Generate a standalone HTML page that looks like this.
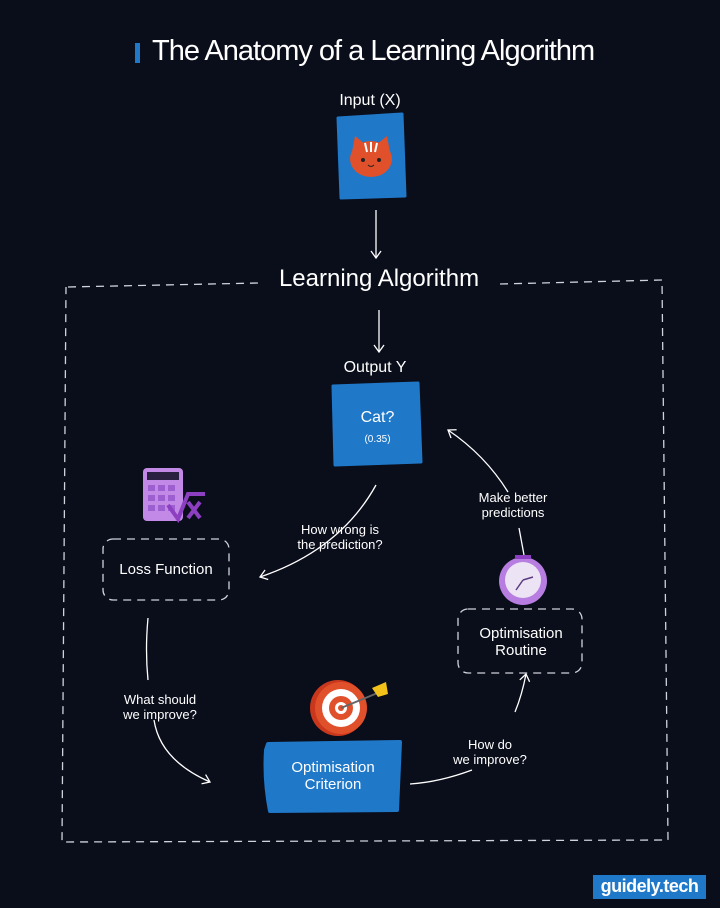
<!DOCTYPE html>
<html><head><meta charset="utf-8"><style>
html,body{margin:0;padding:0;background:#0a0d1a;}
body{width:720px;height:908px;position:relative;overflow:hidden;font-family:"Liberation Sans",sans-serif;color:#fff;}
.t{position:absolute;white-space:nowrap;text-align:center;}
</style></head><body>
<svg width="720" height="908" style="position:absolute;left:0;top:0">
<defs><marker id="a" markerWidth="12" markerHeight="12" refX="9" refY="6" orient="auto" markerUnits="userSpaceOnUse"><path d="M2,1 L9,6 L2,11" fill="none" stroke="#fff" stroke-width="1.3"/></marker></defs>
<rect x="135" y="43" width="5" height="20" fill="#1f78c8"/>
<path d="M338,118 L402,114 L405,196 L341,198 Z" fill="#1f78c8" stroke="#1f78c8" stroke-width="3" stroke-linejoin="round"/>
<ellipse cx="371" cy="159" rx="21" ry="18" fill="#e0502a"/>
<path d="M352,152 L355,136 L366,145 Z M390,152 L387,136 L376,145 Z" fill="#e0502a"/>
<path d="M365,143 L367,152 M371,142 L371,152 M377,143 L375,152" stroke="#fff" stroke-width="2"/>
<circle cx="363" cy="160" r="2" fill="#222"/><circle cx="379" cy="160" r="2" fill="#222"/>
<path d="M368,165 Q371,168 374,165" stroke="#222" fill="none"/>
<line x1="376" y1="210" x2="376" y2="258" stroke="#fff" stroke-width="1.3" marker-end="url(#a)"/>
<path d="M68,287 L258,283 M500,284 L662,280 L668,840 L62,842 L66,287" fill="none" stroke="#cfd3dc" stroke-width="1.3" stroke-dasharray="8,6"/>
<line x1="379" y1="310" x2="379" y2="352" stroke="#fff" stroke-width="1.3" marker-end="url(#a)"/>
<path d="M333,386 L418,383 L421,462 L335,465 Z" fill="#1f78c8" stroke="#1f78c8" stroke-width="3" stroke-linejoin="round"/>
<rect x="143" y="468" width="40" height="53" rx="4" fill="#c389e6"/>
<rect x="147" y="472" width="32" height="8" fill="#2a2040"/>
<g fill="#9d5fcf"><rect x="148" y="485" width="7" height="6"/><rect x="158" y="485" width="7" height="6"/><rect x="168" y="485" width="7" height="6"/><rect x="148" y="495" width="7" height="6"/><rect x="158" y="495" width="7" height="6"/><rect x="168" y="495" width="7" height="6"/><rect x="148" y="505" width="7" height="6"/><rect x="158" y="505" width="7" height="6"/><rect x="168" y="505" width="7" height="6"/></g>
<path d="M168,505 L178,519 L188,494 L205,494" stroke="#8c3fc0" stroke-width="4" fill="none"/>
<path d="M188,502 L200,518 M200,502 L188,518" stroke="#8c3fc0" stroke-width="4"/>
<rect x="103" y="539" width="126" height="61" rx="10" fill="none" stroke="#cfd3dc" stroke-width="1.3" stroke-dasharray="8,6"/>
<path d="M376,485 Q340,550 260,577" fill="none" stroke="#fff" stroke-width="1.3" marker-end="url(#a)"/>
<path d="M508,492 Q485,455 448,430" fill="none" stroke="#fff" stroke-width="1.3" marker-end="url(#a)"/>
<path d="M519,528 L524,555" stroke="#fff" stroke-width="1.3"/>
<path d="M148,618 Q145,650 148,680" fill="none" stroke="#fff" stroke-width="1.3"/>
<path d="M154,720 Q160,760 210,782" fill="none" stroke="#fff" stroke-width="1.3" marker-end="url(#a)"/>
<path d="M410,784 Q440,782 472,770" fill="none" stroke="#fff" stroke-width="1.3"/>
<path d="M515,712 Q522,695 526,674" fill="none" stroke="#fff" stroke-width="1.3" marker-end="url(#a)"/>
<circle cx="523" cy="581" r="24" fill="#b77de0"/>
<circle cx="523" cy="580" r="18" fill="#ece4f5"/>
<path d="M523,580 L516,590 M523,580 L533,577" stroke="#5a3a80" stroke-width="1.5"/>
<rect x="515" y="555" width="16" height="4" fill="#8c3fc0"/>
<rect x="458" y="609" width="124" height="64" rx="10" fill="none" stroke="#cfd3dc" stroke-width="1.3" stroke-dasharray="8,6"/>
<circle cx="338" cy="708" r="28" fill="#c9381c"/>
<circle cx="341" cy="708" r="26" fill="#e0502a"/>
<circle cx="341" cy="708" r="19" fill="#fff"/>
<circle cx="341" cy="708" r="12" fill="#e0502a"/>
<circle cx="341" cy="708" r="6" fill="#fff"/>
<circle cx="341" cy="708" r="3" fill="#e0502a"/>
<line x1="341" y1="708" x2="380" y2="692" stroke="#666" stroke-width="2"/>
<path d="M372,688 L386,682 L388,694 L378,697 Z" fill="#f2c21a"/>
<path d="M268,744 L400,742 L397,810 L270,811 Q264,780 266,750 Z" fill="#1f78c8" stroke="#1f78c8" stroke-width="4" stroke-linejoin="round"/>
<rect x="593" y="875" width="113" height="24" fill="#1f78c8"/>
</svg>
<div class="t" style="left:152px;top:35px;font-size:29px;letter-spacing:-1px;font-weight:500">The Anatomy of a Learning Algorithm</div>
<div class="t" style="left:320px;top:92px;width:100px;font-size:16px">Input (X)</div>
<div class="t" style="left:229px;top:265px;width:300px;font-size:24px">Learning Algorithm</div>
<div class="t" style="left:325px;top:359px;width:100px;font-size:16px">Output Y</div>
<div class="t" style="left:335px;top:409px;width:85px;font-size:16px">Cat?</div>
<div class="t" style="left:335px;top:434px;width:85px;font-size:10px">(0.35)</div>
<div class="t" style="left:104px;top:561px;width:124px;font-size:15px">Loss Function</div>
<div class="t" style="left:280px;top:522px;width:120px;font-size:13px;line-height:15px">How wrong is<br>the prediction?</div>
<div class="t" style="left:453px;top:490px;width:120px;font-size:13px;line-height:15px">Make better<br>predictions</div>
<div class="t" style="left:458px;top:625px;width:126px;font-size:15px;line-height:17px">Optimisation<br>Routine</div>
<div class="t" style="left:100px;top:692px;width:120px;font-size:13px;line-height:15px">What should<br>we improve?</div>
<div class="t" style="left:430px;top:737px;width:120px;font-size:13px;line-height:15px">How do<br>we improve?</div>
<div class="t" style="left:266px;top:759px;width:134px;font-size:15px;line-height:17px">Optimisation<br>Criterion</div>
<div class="t" style="left:593px;top:876px;width:113px;font-size:18px;font-weight:bold;letter-spacing:-0.5px">guidely.tech</div>
</body></html>
